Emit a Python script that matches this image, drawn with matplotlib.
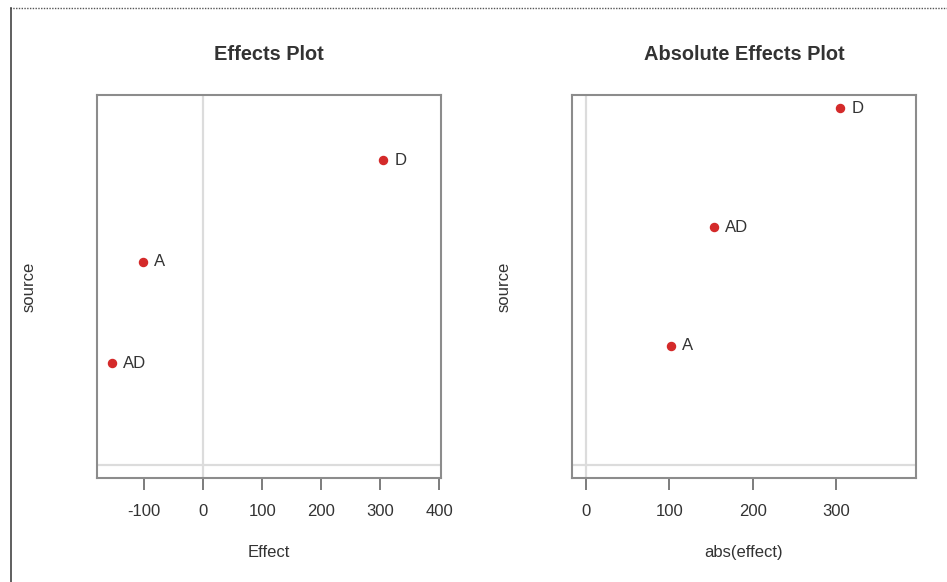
import numpy as np
import matplotlib.pyplot as plt
from matplotlib.lines import Line2D

plt.rcParams['font.family'] = ['Liberation Sans', 'DejaVu Sans']

sources = ["A", "D", "AD"]
effects = [-102, 305, -154]

W, H = 947, 582
fig = plt.figure(figsize=(W / 100, H / 100), dpi=100)

# page frame: dotted top, solid left
fig.add_artist(Line2D([10 / W, 1], [1 - 8 / H, 1 - 8 / H], color="#555555",
                      lw=1, ls=(0, (1, 1)), transform=fig.transFigure))
fig.add_artist(Line2D([11 / W, 11 / W], [0, 1 - 8 / H], color="#444444",
                      lw=1.2, transform=fig.transFigure))

txt = "#333333"
spine = "#8c8c8c"
red = "#d42a2a"
grid = "#dcdcdc"


def panel(x0, vals, title, xlabel, xlim, ylim, xticks):
    ax = fig.add_axes([x0 / W, (H - 478) / H, 344 / W, 383 / H])
    order = np.argsort(vals)
    xs = np.array(vals)[order]
    names = np.array(sources)[order]
    ys = np.arange(1, len(xs) + 1)
    ax.axvline(0, color=grid, lw=1.6, zorder=1)
    ax.axhline(0, color=grid, lw=1.6, zorder=1)
    ax.plot(xs, ys, "o", color=red, ms=5.8, zorder=3)
    for x, y, n in zip(xs, ys, names):
        ax.annotate(n, (x, y), xytext=(8, 0), textcoords="offset points",
                    va="center", ha="left", fontsize=12, color=txt)
    ax.set_xlim(xlim)
    ax.set_ylim(ylim)
    ax.set_xticks(xticks)
    ax.set_xticklabels([str(t) for t in xticks])
    ax.set_yticks([])
    for s in ax.spines.values():
        s.set_color(spine)
        s.set_linewidth(1.5)
    ax.tick_params(axis="x", length=8.5, width=1.2, color="#666666",
                   pad=10, labelsize=12, labelcolor=txt)
    ax.set_title(title, fontsize=14.4, fontweight="bold", color=txt, pad=25)
    ax.set_xlabel(xlabel, fontsize=12, color=txt, labelpad=19)
    ax.set_ylabel("source", fontsize=12, color=txt)
    ax.yaxis.set_label_coords(-0.176, 0.5)
    return ax


panel(97, effects, "Effects Plot", "Effect", (-180, 403), (-0.128, 3.64),
      [-100, 0, 100, 200, 300, 400])
panel(572, list(np.abs(effects)), "Absolute Effects Plot", "abs(effect)",
      (-16.8, 396), (-0.11, 3.11), [0, 100, 200, 300])

fig.savefig("out.png", dpi=100)
